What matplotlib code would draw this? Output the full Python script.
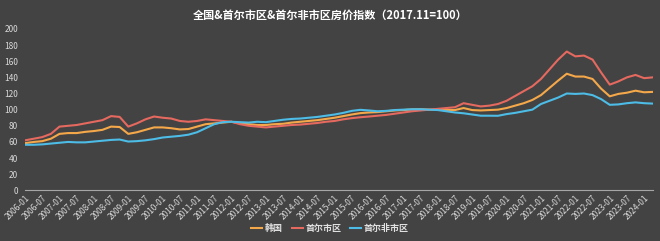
# coding: utf-8

import matplotlib.pyplot as plt

plt.rcParams["font.family"] = ["Noto Sans CJK SC", "DejaVu Sans"]

# quarterly readings, month index counted from 2006-01
months = list(range(0, 220, 3))

korea = [58.5, 60, 61, 64, 70, 71, 71, 72.5, 73.5, 75, 79, 78.5, 70, 72, 75, 78, 78, 77, 75.5, 76,
         79, 82, 83, 84, 85, 83, 82, 81, 81, 82, 82.5, 84, 85, 86, 87, 88.5, 90, 92, 94, 95.7,
         96.5, 97, 98, 99, 99.5, 100.3, 100.5, 100, 100, 99.5, 99.5, 102, 99.5, 99, 99.5, 100, 102, 105,
         108, 112, 118, 127, 136, 144.5, 141, 141, 138, 126, 116.5, 119.5, 121, 123.5, 121.5, 122]

seoul = [62, 64, 66, 70, 79, 80, 81, 83, 85, 87, 92, 91, 79, 83, 88, 91.5, 90, 89, 86, 85,
         86, 88, 87, 86, 85, 82, 80, 79, 78, 79, 80, 81, 81.5, 82.5, 83.5, 85, 86, 88, 89.5, 90.6,
         91.5, 92.5, 93.5, 95, 96.5, 98, 99, 100, 101, 102, 103, 108, 106, 104, 105, 107, 111, 117,
         123, 129, 138, 150, 162, 172, 166, 167, 162, 146, 131, 135, 140, 143, 139, 140]

non_seoul = [56.5, 56.5, 57, 58, 59, 60, 59.5, 59.5, 60.5, 61.5, 62.5, 63, 60.5, 61, 62, 63.5, 65.5, 66.5, 67.5, 69,
             72, 77, 82, 84.5, 85, 84.5, 84, 85, 84.5, 86, 87.5, 88.5, 89, 90, 91, 92.5, 94, 96, 98.5, 99.8,
             99, 98, 98.5, 99.5, 100, 100.5, 100.5, 100, 99.5, 98, 96.5, 95.5, 94, 92.5, 92.5, 92.4, 94.5, 96,
             98, 100, 107, 111, 115, 120, 119.5, 120, 118, 113, 106, 106.5, 108, 109, 108, 107.5]

tick_months = list(range(0, 217, 6))
tick_labels = ["%d-%02d" % (2006 + m // 12, m % 12 + 1) for m in tick_months]

bg = "#434343"
fig = plt.figure(figsize=(6.6, 2.41), dpi=100, facecolor=bg)
ax = fig.add_axes([0.038, 0.21, 0.951, 0.67], facecolor=bg)

ax.plot(months, korea, color="#F5A84A", lw=1.5, label="韩国")
ax.plot(months, seoul, color="#E5695F", lw=1.5, label="首尔市区")
ax.plot(months, non_seoul, color="#4DBCE6", lw=1.5, label="首尔非市区")

ax.set_xlim(0, 219)
ax.set_ylim(0, 200)
ax.set_yticks(range(0, 201, 20))
ax.set_xticks(tick_months)
ax.set_xticklabels(tick_labels, rotation=45, ha="right", rotation_mode="anchor")
ax.tick_params(axis="both", length=0, colors="#D9D9D9", labelsize=6)
ax.tick_params(axis="y", pad=5)
ax.tick_params(axis="x", pad=2)

for side in ["top", "right", "left"]:
    ax.spines[side].set_visible(False)
ax.spines["bottom"].set_color("#A6A6A6")

fig.text(0.5, 0.935, "全国&首尔市区&首尔非市区房价指数（2017.11=100）", color="white",
         fontsize=8, fontweight="bold", ha="center", va="center")

fig.legend(loc="center", bbox_to_anchor=(0.5, 0.05), ncol=3, frameon=False,
           labelcolor="#E0E0E0", handlelength=1.2, handletextpad=0.3,
           columnspacing=1.0, prop={"weight": "bold", "size": 6.5})

plt.savefig("out.png", dpi=100, facecolor=bg)
